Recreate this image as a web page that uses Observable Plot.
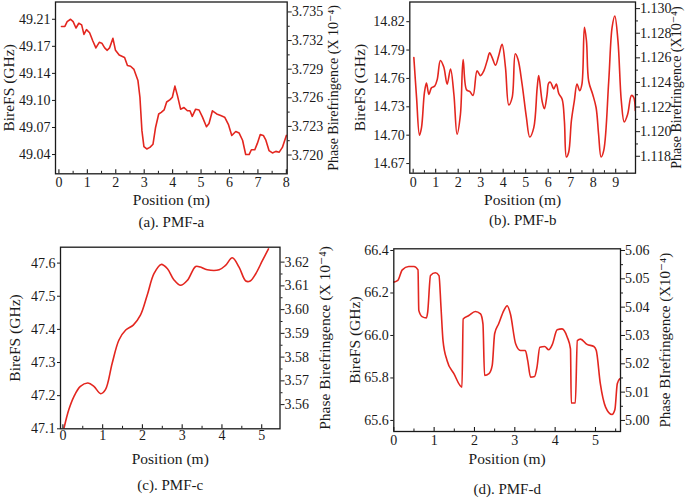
<!DOCTYPE html>
<html>
<head>
<meta charset="utf-8">
<script src="https://cdn.jsdelivr.net/npm/d3@7"></script>
<script src="https://cdn.jsdelivr.net/npm/@observablehq/plot@0.6"></script>
<style>
  body { margin: 0; background: #fff; }
  #root { position: relative; width: 685px; height: 498px; background: #fff; overflow: hidden; }
  .panel { position: absolute; }
</style>
</head>
<body>
<div id="root"></div>
<script>
// ---------- Panel (a) PMF-a ----------
const aPos = [0.09,0.21,0.29,0.41,0.50,0.60,0.70,0.80,0.88,0.97,1.08,1.19,1.30,1.42,1.51,1.61,1.70,1.78,1.90,1.99,2.12,2.31,2.41,2.52,2.64,2.78,2.85,2.92,2.99,3.09,3.20,3.31,3.40,3.51,3.60,3.70,3.79,3.91,3.99,4.08,4.17,4.28,4.40,4.52,4.61,4.69,4.81,4.93,5.05,5.19,5.28,5.40,5.55,5.69,5.83,5.96,6.08,6.22,6.34,6.46,6.57,6.69,6.77,6.89,6.98,7.08,7.19,7.28,7.39,7.51,7.63,7.75,7.86,8.00];
const aBireFS = [49.201,49.201,49.207,49.210,49.207,49.199,49.205,49.203,49.191,49.197,49.193,49.183,49.174,49.181,49.180,49.174,49.171,49.174,49.186,49.171,49.165,49.162,49.152,49.151,49.147,49.133,49.112,49.070,49.050,49.047,49.049,49.053,49.074,49.091,49.093,49.096,49.106,49.109,49.112,49.126,49.114,49.097,49.099,49.095,49.095,49.088,49.097,49.096,49.087,49.075,49.079,49.095,49.091,49.089,49.087,49.078,49.064,49.069,49.067,49.058,49.040,49.040,49.046,49.046,49.054,49.065,49.064,49.058,49.045,49.042,49.044,49.043,49.049,49.064];
const aXTicks = [0,1,2,3,4,5,6,7,8];
const aLeftTicks = [49.21,49.176,49.142,49.108,49.074,49.04];
const aLeftLabels = ["49.21","49.17","49.14","49.10","49.07","49.04"];
const aRightTicks = [3.720,3.723,3.726,3.729,3.732,3.735];
const aRightRef = [3.720,3.735];      // right-axis values ...
const aRightRefLeft = [49.0394,49.2192]; // ... at these BireFS levels

// ---------- Panel (b) PMF-b ----------
const bPos = [0.03,0.15,0.28,0.37,0.50,0.59,0.70,0.81,0.96,1.07,1.21,1.36,1.51,1.66,1.81,1.95,2.10,2.22,2.37,2.52,2.66,2.84,2.99,3.14,3.29,3.40,3.51,3.66,3.80,3.95,4.10,4.25,4.40,4.54,4.66,4.84,5.03,5.18,5.36,5.51,5.58,5.73,5.83,5.95,6.02,6.10,6.25,6.36,6.47,6.62,6.72,6.81,6.91,7.03,7.16,7.28,7.40,7.50,7.61,7.70,7.80,7.98,8.13,8.24,8.35,8.47,8.69,8.84,8.96,9.10,9.25,9.38,9.53,9.70,9.80,9.87];
const bBireFS = [14.782,14.740,14.700,14.708,14.745,14.755,14.743,14.750,14.752,14.759,14.779,14.772,14.754,14.770,14.743,14.701,14.722,14.780,14.748,14.746,14.742,14.768,14.763,14.768,14.779,14.787,14.782,14.774,14.784,14.796,14.772,14.732,14.740,14.786,14.780,14.754,14.719,14.698,14.708,14.750,14.763,14.736,14.728,14.743,14.755,14.756,14.749,14.754,14.744,14.738,14.715,14.677,14.682,14.715,14.736,14.754,14.747,14.754,14.814,14.800,14.757,14.743,14.729,14.701,14.677,14.684,14.757,14.814,14.826,14.800,14.736,14.714,14.722,14.742,14.740,14.726];
const bXTicks = [0,1,2,3,4,5,6,7,8,9];
const bLeftTicks = [14.67,14.70,14.73,14.76,14.79,14.82];
const bRightTicks = [1.118,1.120,1.122,1.124,1.126,1.128,1.130];
const bRightRef = [1.118,1.130];
const bRightRefLeft = [14.6777,14.8338];

// ---------- Panel (c) PMF-c ----------
const cPos = [0.03,0.15,0.28,0.44,0.63,0.78,0.95,1.07,1.24,1.41,1.58,1.77,1.95,2.12,2.29,2.47,2.63,2.79,2.96,3.13,3.34,3.46,3.63,3.93,4.09,4.26,4.43,4.60,4.71,4.85,5.02,5.17];
const cBireFS = [47.103,47.158,47.198,47.228,47.238,47.228,47.206,47.218,47.298,47.368,47.398,47.413,47.443,47.503,47.568,47.596,47.583,47.550,47.533,47.548,47.590,47.588,47.580,47.580,47.593,47.616,47.588,47.546,47.546,47.568,47.608,47.643];
const cXTicks = [0,1,2,3,4,5];
const cLeftTicks = [47.1,47.2,47.3,47.4,47.5,47.6];
const cRightTicks = [3.56,3.57,3.58,3.59,3.60,3.61,3.62];
const cRightRef = [3.56,3.62];
const cRightRefLeft = [47.173,47.603];

// ---------- Panel (d) PMF-d ----------
const dPos = [0.00,0.10,0.21,0.37,0.50,0.60,0.62,0.70,0.81,0.84,0.91,1.03,1.12,1.17,1.22,1.32,1.49,1.69,1.72,1.86,2.02,2.15,2.21,2.25,2.36,2.44,2.50,2.60,2.73,2.81,2.89,3.02,3.14,3.26,3.32,3.39,3.49,3.55,3.62,3.74,3.84,3.93,4.05,4.17,4.30,4.38,4.40,4.50,4.55,4.63,4.79,4.96,5.02,5.12,5.25,5.41,5.48,5.54,5.60];
const dBireFS = [66.251,66.259,66.309,66.325,66.325,66.309,66.118,66.089,66.083,66.110,66.282,66.295,66.282,66.133,65.976,65.882,65.820,65.757,66.078,66.094,66.113,66.102,66.055,65.812,65.820,65.859,66.008,66.055,66.118,66.140,66.102,65.961,65.929,65.929,65.882,65.804,65.807,65.851,65.945,65.948,65.933,65.958,66.027,66.031,65.992,65.937,65.682,65.682,65.976,65.983,65.958,65.948,65.929,65.773,65.663,65.628,65.650,65.773,65.796];
const dXTicks = [0,1,2,3,4,5];
const dLeftTicks = [65.6,65.8,66.0,66.2,66.4];
const dRightTicks = [5.00,5.01,5.02,5.03,5.04,5.05,5.06];
const dRightRef = [5.00,5.06];
const dRightRefLeft = [65.6,66.4];

const RED = "#e3261f";
const INK = "#1a1a1a";
const FONT = "'Liberation Serif', 'DejaVu Serif', serif";
const TICK_FS = 14;
const TITLE_FS = 15.5;
const CAPTION_FS = 15;

function midpoints(t) {
  const m = [];
  for (let i = 0; i < t.length - 1; i++) m.push((t[i] + t[i + 1]) / 2);
  return m;
}

function panel(cfg) {
  const data = cfg.x.map((x, i) => ({x, y: cfg.y[i]}));
  const toLeft = d3.scaleLinear().domain(cfg.rightRef).range(cfg.rightRefLeft);
  const frameH = cfg.height - cfg.mt - cfg.mb;
  const xMinor = midpoints(cfg.xTicks).concat(cfg.xExtraMinor || []);
  const rMinor = midpoints(cfg.rightTicks);
  const titleStyle = {fontSize: TITLE_FS, fill: INK, textAnchor: "middle", lineAnchor: "middle"};
  return Plot.plot({
    width: cfg.width,
    height: cfg.height,
    marginLeft: cfg.ml,
    marginRight: cfg.mr,
    marginTop: cfg.mt,
    marginBottom: cfg.mb,
    style: {fontFamily: FONT, fontSize: TICK_FS + "px", color: INK, background: "transparent", overflow: "visible"},
    x: {domain: cfg.xDomain, axis: null},
    y: {domain: cfg.yDomain, axis: null},
    marks: [
      Plot.line(data, {x: "x", y: "y", stroke: RED, strokeWidth: 1.6, curve: cfg.curve}),
      Plot.frame({stroke: INK, strokeWidth: 1.3}),
      Plot.tickX(cfg.xTicks, {x: d => d, stroke: INK, strokeWidth: 1.1, insetTop: frameH - 4}),
      Plot.tickX(xMinor, {x: d => d, stroke: INK, strokeWidth: 1, insetTop: frameH - 2.5}),
      Plot.axisX(cfg.xTicks, {label: null, tickSize: 0, tickPadding: cfg.xPad, fontSize: TICK_FS, tickFormat: d => String(d)}),
      Plot.axisY(cfg.leftTicks, {label: null, anchor: "left", tickSize: 3, tickPadding: 2, fontSize: TICK_FS, tickFormat: cfg.leftFormat}),
      Plot.axisY(cfg.rightTicks.map(toLeft), {label: null, anchor: "right", tickSize: 4, tickPadding: 0.5, fontSize: TICK_FS,
        tickFormat: d => d3.format(cfg.rightFmt)(toLeft.invert(d))}),
      Plot.axisY(rMinor.map(toLeft), {label: null, anchor: "right", tickSize: 2, tickFormat: () => ""}),
      Plot.text([cfg.leftTitle], {frameAnchor: "left", rotate: -90, dx: cfg.leftTitleDx, ...titleStyle}),
      Plot.text([cfg.rightTitle], {frameAnchor: "right", rotate: -90, dx: cfg.rightTitleDx, ...titleStyle, fontSize: cfg.rightTitleFs}),
      Plot.text([cfg.xTitle], {frameAnchor: "bottom", dy: cfg.xTitleDy, ...titleStyle}),
      Plot.text([cfg.caption], {frameAnchor: "bottom", dy: cfg.captionDy, ...titleStyle, fontSize: CAPTION_FS})
    ]
  });
}

const panels = [
  {left: 0, top: 0, cfg: {
    x: aPos, y: aBireFS, curve: "linear", width: 340, height: 240, ml: 55, mr: 53.3, mt: 1.5, mb: 66.7,
    xDomain: [-0.12, 8.03], yDomain: [49.0158, 49.2317], xTicks: aXTicks, xPad: 3.5,
    leftTicks: aLeftTicks, leftFormat: d => aLeftLabels[aLeftTicks.indexOf(d)],
    rightTicks: aRightTicks, rightRef: aRightRef, rightRefLeft: aRightRefLeft, rightFmt: ".3f",
    leftTitle: "BireFS (GHz)", rightTitle: "Phase Birefringence (X 10⁻⁴)", xTitle: "Position (m)", caption: "(a). PMF-a",
    leftTitleDx: -46.7, rightTitleDx: 46.6, rightTitleFs: 14, xTitleDy: 26, captionDy: 48.4}},
  {left: 340, top: 0, cfg: {
    x: bPos, y: bBireFS, curve: "catmull-rom", width: 345, height: 240, ml: 69.3, mr: 50, mt: 1.5, mb: 67.3,
    xDomain: [-0.15, 9.88], yDomain: [14.6598, 14.8408], xTicks: bXTicks, xExtraMinor: [9.5], xPad: 3.5,
    leftTicks: bLeftTicks, leftFormat: d3.format(".2f"),
    rightTicks: bRightTicks, rightRef: bRightRef, rightRefLeft: bRightRefLeft, rightFmt: ".3f",
    leftTitle: "BireFS (GHz)", rightTitle: "Phase Birefringence (X10⁻⁴)", xTitle: "Position (m)", caption: "(b). PMF-b",
    leftTitleDx: -49.3, rightTitleDx: 40.7, rightTitleFs: 14, xTitleDy: 26.6, captionDy: 47.3}},
  {left: 0, top: 240, cfg: {
    x: cPos, y: cBireFS, curve: "catmull-rom", width: 340, height: 258, ml: 60, mr: 60.5, mt: 6.7, mb: 69.7,
    xDomain: [-0.06, 5.46], yDomain: [47.1, 47.648], xTicks: cXTicks, xPad: 1.5,
    leftTicks: cLeftTicks, leftFormat: d3.format(".1f"),
    rightTicks: cRightTicks, rightRef: cRightRef, rightRefLeft: cRightRefLeft, rightFmt: ".2f",
    leftTitle: "BireFS (GHz)", rightTitle: "Phase Birefringence (X 10⁻⁴)", xTitle: "Position (m)", caption: "(c). PMF-c",
    leftTitleDx: -45, rightTitleDx: 45.5, rightTitleFs: 15.5, xTitleDy: 30, captionDy: 56.7}},
  {left: 340, top: 240, cfg: {
    x: dPos, y: dBireFS, curve: "monotone-x", width: 345, height: 258, ml: 53.3, mr: 65, mt: 8.3, mb: 67,
    xDomain: [0, 5.62], yDomain: [65.548, 66.408], xTicks: dXTicks, xExtraMinor: [5.5], xPad: 3.5,
    leftTicks: dLeftTicks, leftFormat: d3.format(".1f"),
    rightTicks: dRightTicks, rightRef: dRightRef, rightRefLeft: dRightRefLeft, rightFmt: ".2f",
    leftTitle: "BireFS (GHz)", rightTitle: "Phase BIrefringence (X10⁻⁴)", xTitle: "Position (m)", caption: "(d). PMF-d",
    leftTitleDx: -38.3, rightTitleDx: 45, rightTitleFs: 15, xTitleDy: 27.3, captionDy: 57.3}}
];

const root = document.getElementById("root");
for (const p of panels) {
  const div = document.createElement("div");
  div.className = "panel";
  div.style.left = p.left + "px";
  div.style.top = p.top + "px";
  div.appendChild(panel(p.cfg));
  root.appendChild(div);
}
</script>
</body>
</html>
